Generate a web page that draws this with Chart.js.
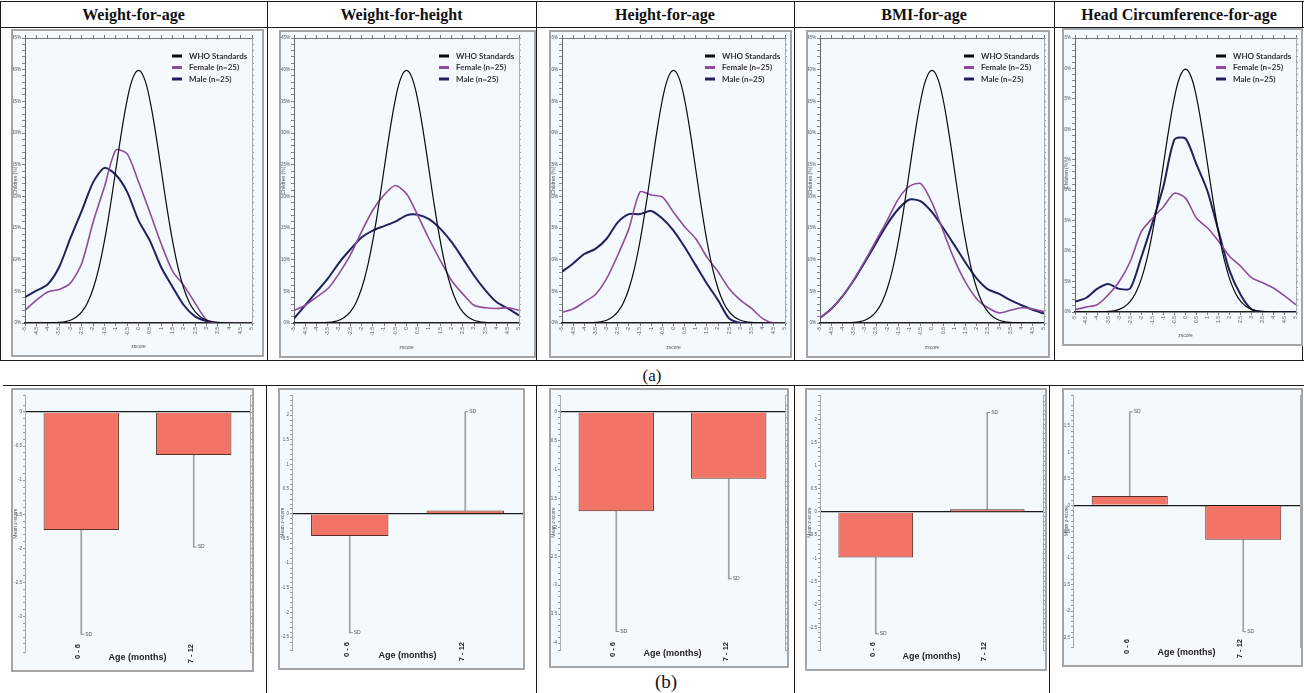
<!DOCTYPE html>
<html>
<head>
<meta charset="utf-8">
<title>Z-score distributions and mean z-scores</title>
<script src="https://cdn.jsdelivr.net/npm/chart.js@4.4.1/dist/chart.umd.min.js"></script>
<style>
  body { margin: 0; width: 1304px; height: 693px; position: relative; overflow: hidden; background: #fff; font-family: "Liberation Serif", serif; }
  .rule { position: absolute; background: #1a1a1a; }
  .head { position: absolute; top: 2px; height: 26px; line-height: 26px; text-align: center; font-weight: bold; font-size: 16px; color: #111; }
  .box { position: absolute; box-sizing: border-box; border: 2px solid #a5a5a5; background: #f4f9fd; }
  .box canvas { display: block; }
  .caption { position: absolute; text-align: center; color: #111; }
</style>
</head>
<body>
<script>
// z-score grid for the WHO reference curve and for the observed curves
const zWho = [-5, -4.75, -4.5, -4.25, -4, -3.75, -3.5, -3.25, -3, -2.75, -2.5, -2.25, -2, -1.75, -1.5, -1.25, -1, -0.75, -0.5, -0.25,
  0, 0.25, 0.5, 0.75, 1, 1.25, 1.5, 1.75, 2, 2.25, 2.5, 2.75, 3, 3.25, 3.5, 3.75, 4, 4.25, 4.5, 4.75, 5];
const whoStandard = [0, 0, 0, 0, 0.01, 0.04, 0.09, 0.2, 0.44, 0.91, 1.75, 3.17, 5.4, 8.63, 12.95, 18.26, 24.2, 30.11, 35.21, 38.67,
  39.89, 38.67, 35.21, 30.11, 24.2, 18.26, 12.95, 8.63, 5.4, 3.17, 1.75, 0.91, 0.44, 0.2, 0.09, 0.04, 0.01, 0, 0, 0, 0];
const zObs = [-5, -4.5, -4, -3.5, -3, -2.5, -2, -1.5, -1, -0.5, 0, 0.5, 1, 1.5, 2, 2.5, 3, 3.5, 4, 4.5, 5];

// percentage of children at each z-score
const waFemale = [2.0, 3.6, 4.9, 5.3, 6.3, 9.4, 15.9, 21.5, 27.3, 26.7, 22.3, 17.5, 12.5, 8.2, 5.9, 3.1, 0.5, 0, 0, 0, 0];
const waMale = [4.1, 5.1, 6.1, 8.8, 13.4, 17.7, 22.2, 24.5, 23.4, 20.7, 16.2, 13.0, 8.8, 5.7, 2.8, 1.0, 0.3, 0, 0, 0, 0];
const whFemale = [2.0, 2.8, 4.1, 5.4, 7.8, 10.7, 14.4, 17.8, 20.2, 21.7, 20.4, 17.0, 13.3, 9.9, 6.7, 4.6, 2.8, 2.4, 2.3, 2.4, 2.0];
const whMale = [0.7, 2.8, 4.9, 7.0, 9.5, 11.6, 13.5, 14.6, 15.3, 16.0, 17.0, 17.1, 16.4, 14.9, 12.8, 10.2, 7.5, 5.2, 3.3, 2.3, 1.2];
const haFemale = [1.7, 2.2, 3.3, 4.5, 7.0, 10.7, 14.9, 20.7, 20.2, 19.9, 17.5, 15.2, 13.3, 10.4, 8.1, 5.4, 3.6, 2.3, 0.7, 0, 0];
const haMale = [8.1, 9.4, 10.9, 11.7, 13.3, 15.9, 17.2, 17.2, 17.7, 16.5, 14.6, 12.0, 9.1, 6.2, 3.6, 0.7, 0, 0, 0, 0, 0];
const bmiFemale = [0.8, 2.2, 4.2, 6.8, 9.8, 13.0, 16.2, 19.6, 21.6, 22.0, 19.0, 14.5, 10.0, 6.4, 3.8, 2.4, 1.6, 2.0, 2.4, 2.2, 1.8];
const bmiMale = [0.8, 2.2, 4.2, 6.7, 9.6, 12.6, 15.6, 18.0, 19.5, 19.2, 17.5, 15.0, 12.3, 9.5, 7.0, 5.3, 4.6, 3.6, 2.8, 2.1, 1.5];
const hcFemale = [0.4, 0.8, 1.2, 2.8, 5.0, 8.3, 13.2, 15.4, 17.3, 19.5, 18.7, 15.4, 13.8, 11.6, 9.1, 7.5, 5.6, 4.8, 3.9, 2.6, 1.2];
const hcMale = [1.7, 2.3, 3.8, 4.6, 3.8, 3.9, 9.0, 14.6, 20.6, 28.3, 28.5, 24.2, 19.8, 13.2, 6.7, 2.8, 0.4, 0, 0, 0, 0];

// mean z-score by age group and the end of its SD bar
const ageGroups = ["0 - 6", "7 - 12"];
const waMean = [-1.73, -0.63];
const waSdEnd = [-3.26, -1.98];
const whMean = [-0.45, 0.07];
const whSdEnd = [-2.41, 2.07];
const haMean = [-1.72, -1.16];
const haSdEnd = [-3.80, -2.89];
const bmiMean = [-0.98, 0.06];
const bmiSdEnd = [-2.63, 2.15];
const hcMean = [0.18, -0.65];
const hcSdEnd = [1.77, -2.39];

const indicators = ["Weight-for-age", "Weight-for-height", "Height-for-age", "BMI-for-age", "Head Circumference-for-age"];

const tickFont = "Liberation Sans";

// table rules and captions
function rule(x, y, w, h) {
  const d = document.createElement("div");
  d.className = "rule";
  Object.assign(d.style, { left: x + "px", top: y + "px", width: w + "px", height: h + "px" });
  document.body.appendChild(d);
}
rule(0, 1, 1304, 1);
rule(0, 27, 1304, 1);
rule(0, 360, 1304, 1);
rule(3, 385, 1301, 1);
[0, 267, 536, 794, 1054, 1302].forEach((x) => rule(x, 1, 1, 360));
[266, 536, 794, 1049].forEach((x) => rule(x, 385, 1, 308));

const colEdges = [0, 267, 536, 794, 1054, 1304];
indicators.forEach((name, i) => {
  const d = document.createElement("div");
  d.className = "head";
  d.style.left = colEdges[i] + "px";
  d.style.width = colEdges[i + 1] - colEdges[i] + "px";
  d.textContent = name;
  document.body.appendChild(d);
});

function caption(text, x, y, size) {
  const d = document.createElement("div");
  d.className = "caption";
  Object.assign(d.style, { left: x - 20 + "px", top: y - 12 + "px", width: "40px", lineHeight: "24px", fontSize: size + "px" });
  d.textContent = text;
  document.body.appendChild(d);
}
caption("(a)", 652, 376, 17);
caption("(b)", 666, 682, 19);

function makeBox(box) {
  const d = document.createElement("div");
  d.className = "box";
  Object.assign(d.style, { left: box[0] + "px", top: box[1] + "px", width: box[2] + "px", height: box[3] + "px" });
  const c = document.createElement("canvas");
  c.width = box[2] - 4;
  c.height = box[3] - 4;
  d.appendChild(c);
  document.body.appendChild(d);
  return c;
}

function innerOf(box) {
  return { left: box[0] + 2, top: box[1] + 2, right: box[0] + box[2] - 2, bottom: box[1] + box[3] - 2 };
}

function tidy(v) {
  return String(Math.round(v * 10) / 10);
}

// legend drawn inside the plot, top right
const legendLines = {
  id: "legendLines",
  afterDraw(chart) {
    const { ctx, chartArea } = chart;
    ctx.save();
    chart.data.datasets.forEach((ds, i) => {
      const y = chartArea.top + 18 + i * 11.5;
      ctx.fillStyle = ds.borderColor;
      ctx.fillRect(chartArea.right - 80, y - 1.5, 10, 3);
      ctx.fillStyle = "#333";
      ctx.font = "bold 8px Lato";
      ctx.textBaseline = "middle";
      ctx.fillText(ds.label, chartArea.right - 63, y);
    });
    ctx.restore();
  },
};

// small cap and label at the end of each SD bar
const errorCaps = {
  id: "errorCaps",
  afterDatasetsDraw(chart) {
    const meta = chart.getDatasetMeta(1);
    const ys = chart.scales.y;
    const ctx = chart.ctx;
    ctx.save();
    ctx.strokeStyle = "#8a8a8a";
    ctx.fillStyle = "#555";
    ctx.lineWidth = 1;
    ctx.font = '5px "Liberation Sans"';
    ctx.textBaseline = "middle";
    meta.data.forEach((bar, i) => {
      const y = ys.getPixelForValue(chart.data.datasets[1].data[i][1]);
      ctx.beginPath();
      ctx.moveTo(bar.x, y);
      ctx.lineTo(bar.x + 3, y);
      ctx.stroke();
      ctx.fillText("SD", bar.x + 4, y);
    });
    ctx.restore();
  },
};

function drawCurves(p) {
  const canvas = makeBox(p.box);
  const inner = innerOf(p.box);
  new Chart(canvas, {
    type: "line",
    data: {
      datasets: [
        { label: "WHO Standards", data: zWho.map((z, i) => ({ x: z, y: whoStandard[i] })), borderColor: "#0a0a0a", borderWidth: 1.2, tension: 0.4 },
        { label: "Female (n=25)", data: zObs.map((z, i) => ({ x: z, y: p.female[i] })), borderColor: "#8d4c9e", borderWidth: 1.6, tension: 0.25 },
        { label: "Male (n=25)", data: zObs.map((z, i) => ({ x: z, y: p.male[i] })), borderColor: "#20225e", borderWidth: 2, tension: 0.25 },
      ],
    },
    options: {
      responsive: false,
      animation: false,
      layout: { padding: { left: 0, top: p.area[1] - inner.top, right: inner.right - p.area[2], bottom: 0 } },
      elements: { point: { radius: 0 } },
      plugins: { legend: { display: false }, tooltip: { enabled: false } },
      scales: {
        x: {
          type: "linear", min: -5, max: 5, position: "bottom",
          ticks: { stepSize: 0.5, autoSkip: false, minRotation: 90, maxRotation: 90, padding: 1, color: "#555", font: { size: 5, family: tickFont }, callback: tidy },
          grid: { drawOnChartArea: false, tickLength: 3, tickColor: "#777" },
          border: { color: "#222", width: 1.5 },
          title: { display: true, text: "zscore", color: "#555", font: { size: 5, family: tickFont }, padding: { top: 0, bottom: 5 } },
          afterFit: (s) => { s.height = inner.bottom - p.area[3]; s.paddingLeft = 0; s.paddingRight = 0; },
        },
        xTop: {
          type: "linear", min: -5, max: 5, position: "top",
          ticks: { display: false, stepSize: 0.5 },
          grid: { drawOnChartArea: false, tickLength: 3, tickColor: "#777" },
          border: { color: "#777" },
          afterFit: (s) => { s.height = 0; s.paddingLeft = 0; s.paddingRight = 0; },
        },
        y: {
          min: 0, max: 45,
          ticks: { stepSize: 1, autoSkip: false, padding: 1, color: "#555", font: { size: 4.5, family: tickFont }, callback: (v) => (v % 5 === 0 ? v + "%" : "") },
          grid: { drawOnChartArea: false, tickLength: 3, tickColor: "#888" },
          border: { color: "#666" },
          title: { display: true, text: "Children (%)", color: "#555", font: { size: 5, family: tickFont }, padding: 0 },
          afterFit: (s) => { s.width = p.area[0] - inner.left; s.paddingTop = 0; s.paddingBottom = 0; },
        },
        yRight: {
          type: "linear", position: "right", min: 0, max: 45,
          ticks: { display: false, stepSize: 1 },
          grid: { drawOnChartArea: false, tickLength: 2, tickColor: "#999" },
          border: { color: "#aaa" },
          afterFit: (s) => { s.width = 0; s.paddingTop = 0; s.paddingBottom = 0; },
        },
      },
    },
    plugins: [legendLines],
  });
}

function drawBars(p) {
  const canvas = makeBox(p.box);
  const inner = innerOf(p.box);
  new Chart(canvas, {
    type: "bar",
    data: {
      labels: ageGroups,
      datasets: [
        { data: p.mean, backgroundColor: "#f17467", borderColor: "#5b2e26", borderWidth: 1, barPercentage: 0.67, categoryPercentage: 1, grouped: false, order: 0 },
        { data: ageGroups.map((g, i) => [p.mean[i], p.sdEnd[i]]), backgroundColor: "#a0a0a0", borderWidth: 0, barThickness: 1, grouped: false, order: 1 },
      ],
    },
    options: {
      responsive: false,
      animation: false,
      layout: { padding: { left: 0, top: p.area[1] - inner.top, right: inner.right - p.area[2], bottom: 0 } },
      plugins: { legend: { display: false }, tooltip: { enabled: false } },
      scales: {
        x: {
          // mirrored labels start a little above the plot bottom, as in the source figure
          ticks: { mirror: true, minRotation: 90, maxRotation: 90, padding: 8, labelOffset: 6, color: "#222", font: { size: 7.5, weight: "bold", family: tickFont } },
          grid: { display: false },
          border: { display: false },
          title: { display: true, text: "Age (months)", color: "#222", font: { size: 9, weight: "bold", family: tickFont }, padding: { top: 0, bottom: 7 } },
          afterFit: (s) => { s.height = inner.bottom - p.area[3]; s.paddingLeft = 0; s.paddingRight = 0; },
        },
        y: {
          min: p.yRange[0], max: p.yRange[1],
          ticks: {
            stepSize: 0.1, autoSkip: false, padding: 1, color: "#555", font: { size: 4.5, family: tickFont },
            callback: (v) => (Math.abs(v * 2 - Math.round(v * 2)) < 1e-6 ? tidy(v) : ""),
          },
          grid: {
            drawOnChartArea: true, tickLength: 2, tickColor: "#999",
            color: (c) => (c.tick && Math.abs(c.tick.value) < 1e-9 ? "#1a1a1a" : "rgba(0,0,0,0)"),
            lineWidth: (c) => (c.tick && Math.abs(c.tick.value) < 1e-9 ? 1.3 : 1),
          },
          border: { color: "#aaa" },
          title: { display: true, text: "Mean z-score", color: "#555", font: { size: 5, family: tickFont }, padding: 0 },
          afterFit: (s) => { s.width = p.area[0] - inner.left; s.paddingTop = 0; s.paddingBottom = 0; },
        },
        yRight: {
          type: "linear", position: "right", min: p.yRange[0], max: p.yRange[1],
          ticks: { display: false, stepSize: 0.1 },
          grid: { drawOnChartArea: false, tickLength: 2, tickColor: "#999" },
          border: { color: "#aaa" },
          afterFit: (s) => { s.width = 0; s.paddingTop = 0; s.paddingBottom = 0; },
        },
      },
    },
    plugins: [errorCaps],
  });
}

// row (a): z-score distributions
[
  { female: waFemale, male: waMale, box: [11, 29, 253, 328], area: [25, 38, 252, 323] },
  { female: whFemale, male: whMale, box: [279, 30, 257, 328], area: [294, 38, 519, 323] },
  { female: haFemale, male: haMale, box: [549, 30, 243, 328], area: [562, 38, 785, 323] },
  { female: bmiFemale, male: bmiMale, box: [806, 30, 244, 328], area: [820, 38, 1044, 323] },
  { female: hcFemale, male: hcMale, box: [1062, 28, 241, 318], area: [1075, 38, 1296, 312] },
].forEach(drawCurves);

// row (b): mean z-score by age group
[
  { mean: waMean, sdEnd: waSdEnd, yRange: [-3.52, 0.25], box: [11, 388, 243, 284], area: [25, 395, 250, 652] },
  { mean: whMean, sdEnd: whSdEnd, yRange: [-2.76, 2.41], box: [278, 388, 247, 282], area: [292, 395, 523, 650] },
  { mean: haMean, sdEnd: haSdEnd, yRange: [-4.12, 0.29], box: [549, 388, 240, 280], area: [560, 395, 785, 650] },
  { mean: bmiMean, sdEnd: bmiSdEnd, yRange: [-2.98, 2.53], box: [805, 388, 242, 283], area: [820, 395, 1043, 650] },
  { mean: hcMean, sdEnd: hcSdEnd, yRange: [-2.68, 2.09], box: [1062, 388, 241, 279], area: [1073, 395, 1300, 647] },
].forEach(drawBars);
</script>
</body>
</html>
